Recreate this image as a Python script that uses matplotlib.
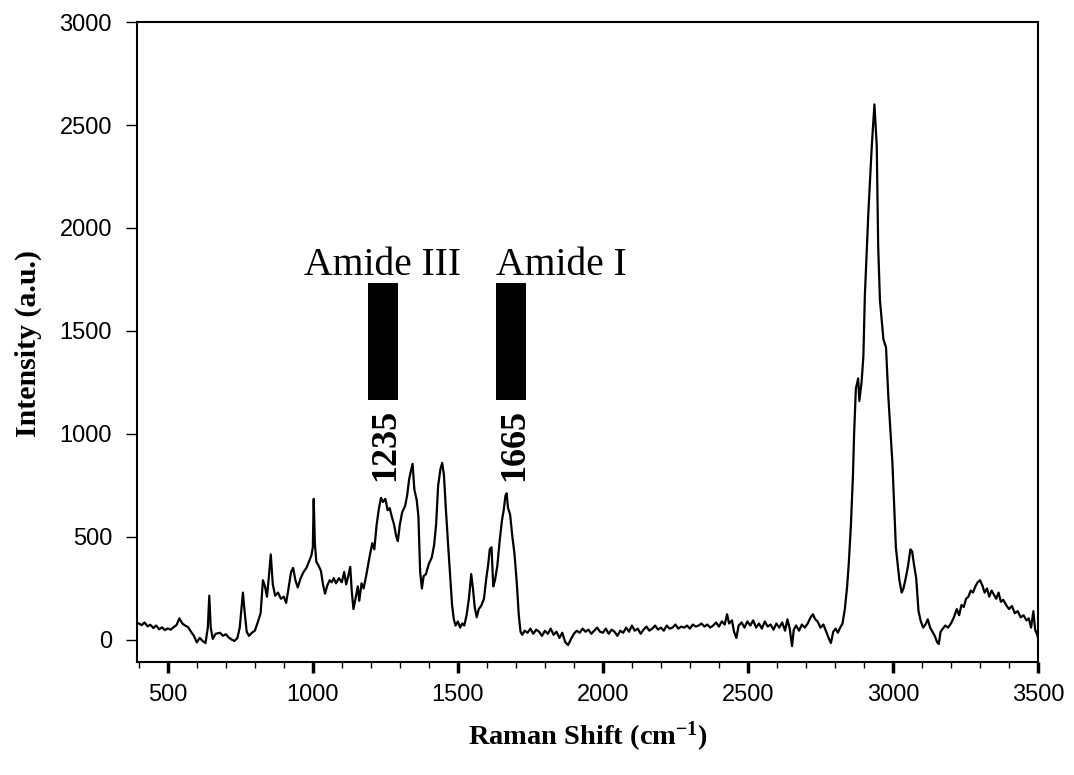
import matplotlib.pyplot as plt
from matplotlib.ticker import MultipleLocator

# fingerprint region (400 - 1720 cm-1)
shift_fp = [400, 410, 420, 430, 440, 450, 460, 470, 480, 490, 500, 510, 520, 530, 540, 550, 560, 570,
            580, 590, 600, 610, 620, 630, 638, 643, 648, 655, 665, 680, 690, 700, 710, 720, 730, 740,
            748, 755, 759, 764, 772, 780, 790, 800, 810, 820, 828, 835, 842, 848, 855, 862, 870, 880,
            890, 900, 908, 915, 925, 932, 940, 948, 958, 968, 978, 988, 995, 1000, 1003, 1007, 1012,
            1020, 1028, 1035, 1042, 1050, 1058, 1065, 1072, 1080, 1090, 1100, 1108, 1115, 1122, 1129,
            1134, 1140, 1147, 1155, 1160, 1168, 1175, 1185, 1195, 1205, 1212, 1220, 1228, 1235, 1242,
            1250, 1258, 1265, 1272, 1280, 1288, 1293, 1300, 1308, 1318, 1325, 1332, 1338, 1344, 1350,
            1358, 1364, 1370, 1376, 1382, 1390, 1400, 1410, 1418, 1425, 1432, 1440, 1446, 1452, 1458,
            1466, 1474, 1480, 1486, 1492, 1500, 1508, 1515, 1522, 1530, 1538, 1546, 1552, 1558, 1565,
            1572, 1580, 1590, 1598, 1604, 1610, 1616, 1622, 1628, 1636, 1644, 1652, 1658, 1664, 1668,
            1673, 1680, 1688, 1695, 1703, 1710, 1716]
int_fp = [80, 72, 85, 66, 74, 58, 70, 52, 61, 48, 56, 50, 62, 72, 105, 80, 70, 62,
          40, 20, -12, 10, -5, -15, 60, 215, 60, 5, 30, 35, 20, 28, 12, 2, -5, 10,
          60, 170, 230, 150, 40, 20, 35, 45, 85, 130, 290, 260, 210, 300, 415, 270, 215, 230,
          200, 210, 180, 240, 330, 350, 290, 255, 300, 330, 350, 385, 410, 450, 685, 470, 380,
          360, 335, 270, 225, 265, 290, 280, 300, 275, 300, 280, 330, 270, 310, 355,
          240, 150, 200, 260, 190, 275, 250, 320, 400, 470, 440, 560, 640, 690, 670,
          685, 630, 640, 600, 560, 500, 480, 560, 620, 650, 700, 780, 820, 855, 730,
          680, 600, 330, 250, 310, 320, 370, 400, 460, 560, 750, 830, 860, 800, 650,
          470, 300, 170, 100, 70, 90, 60, 80, 70, 120, 200, 320, 250, 160, 110,
          150, 165, 200, 300, 360, 440, 450, 260, 290, 360, 480, 580, 630, 700, 712,
          640, 610, 500, 420, 280, 120, 40]

# silent region (1720 - 2830 cm-1)
shift_silent = [1722, 1730, 1740, 1750, 1760, 1770, 1780, 1790, 1800, 1810, 1820, 1830, 1840, 1850,
                1860, 1870, 1880, 1890, 1900, 1910, 1920, 1930, 1940, 1950, 1960, 1970, 1980, 1990,
                2000, 2010, 2020, 2030, 2040, 2050, 2060, 2070, 2080, 2090, 2100, 2110, 2120, 2130,
                2140, 2150, 2160, 2170, 2180, 2190, 2200, 2210, 2220, 2230, 2240, 2250, 2260, 2270,
                2280, 2290, 2300, 2310, 2320, 2330, 2340, 2350, 2360, 2370, 2380, 2390, 2400, 2410,
                2420, 2428, 2435, 2445, 2452, 2460, 2468, 2478, 2488, 2498, 2508, 2518, 2528, 2538,
                2548, 2558, 2568, 2578, 2588, 2598, 2608, 2618, 2628, 2636, 2644, 2652, 2658, 2666,
                2676, 2686, 2696, 2706, 2716, 2724, 2732, 2740, 2750, 2760, 2770, 2778, 2786, 2794,
                2802, 2810, 2818, 2826]
int_silent = [25, 45, 35, 55, 30, 50, 40, 20, 45, 30, 55, 25, 40, 10,
              35, -10, -25, 5, 30, 45, 35, 55, 40, 50, 30, 45, 60, 40,
              35, 55, 30, 50, 40, 20, 45, 35, 60, 40, 70, 45, 55, 30,
              50, 65, 45, 55, 70, 50, 60, 45, 70, 55, 60, 75, 55, 65,
              60, 70, 55, 75, 65, 70, 80, 65, 75, 60, 70, 85, 65, 90,
              75, 125, 80, 95, 40, 10, 70, 85, 60, 90, 70, 95, 60, 80,
              55, 90, 65, 75, 50, 80, 60, 85, 45, 100, 55, -30, 50, 70,
              45, 75, 60, 80, 110, 125, 100, 90, 60, 75, 40, 10, -15, 40,
              55, 35, 60, 80]

# C-H stretching region (2830 - 3500 cm-1)
shift_ch = [2834, 2842, 2848, 2855, 2862, 2866, 2872, 2880, 2884, 2892, 2898, 2903, 2915, 2927, 2936,
            2944, 2949, 2955, 2967, 2976, 2984, 2990, 2998, 3010, 3022, 3030, 3036, 3044, 3052, 3060,
            3066, 3072, 3080, 3088, 3096, 3104, 3112, 3120, 3128, 3136, 3144, 3152, 3158, 3164, 3172,
            3180, 3190, 3200, 3210, 3220, 3228, 3236, 3244, 3252, 3260, 3268, 3276, 3284, 3292, 3300,
            3308, 3316, 3324, 3332, 3340, 3348, 3356, 3364, 3372, 3380, 3390, 3400, 3410, 3420, 3430,
            3440, 3450, 3460, 3468, 3476, 3484, 3490, 3496, 3500]
int_ch = [150, 260, 380, 560, 800, 1000, 1220, 1270, 1160, 1255, 1380, 1670, 2070, 2400, 2600,
          2400, 1910, 1650, 1460, 1420, 1180, 1040, 860, 450, 290, 230, 250, 300, 360, 440,
          430, 370, 300, 140, 90, 60, 75, 100, 60, 40, 20, -10, -20, 40, 55,
          70, 60, 80, 110, 150, 120, 170, 160, 200, 210, 240, 230, 260, 280, 290,
          265, 230, 250, 210, 240, 220, 200, 230, 185, 195, 170, 150, 165, 130, 140,
          110, 120, 95, 105, 60, 140, 50, 30, 10]

band_pos = [1241, 1684]
band_names = ['Amide III', 'Amide I']
band_labels = ['1235', '1665']

shift = shift_fp + shift_silent + shift_ch
intensity = int_fp + int_silent + int_ch

plt.rcParams['mathtext.fontset'] = 'custom'
plt.rcParams['mathtext.rm'] = 'Liberation Serif:bold'
plt.rcParams['mathtext.it'] = 'Liberation Serif:bold'
plt.rcParams['mathtext.bf'] = 'Liberation Serif:bold'

fig = plt.figure(figsize=(10.74, 7.75), dpi=100)
ax = fig.add_axes([0.1276, 0.1458, 0.8389, 0.8258])

ax.plot(shift, intensity, color='black', linewidth=1.6)

# amide band markers
ax.bar(band_pos, 570, width=104, bottom=1165, color='black')
ax.text(band_pos[0], 1772, band_names[0], ha='center', va='baseline',
        family='Liberation Serif', fontsize=28.5)
ax.text(band_pos[1] - 52, 1772, band_names[1], ha='left', va='baseline',
        family='Liberation Serif', fontsize=28.5)
for p, lab in zip(band_pos, band_labels):
    ax.text(p + 10, 945, lab, rotation=90, ha='center', va='center',
            family='Liberation Serif', fontweight='bold', fontsize=26)

ax.set_xlim(394, 3500)
ax.set_ylim(-107, 3000)
ax.xaxis.set_major_locator(MultipleLocator(500))
ax.xaxis.set_minor_locator(MultipleLocator(100))
ax.yaxis.set_major_locator(MultipleLocator(500))
ax.tick_params(axis='x', which='major', direction='out', length=8, width=2.5, pad=8)
ax.tick_params(axis='x', which='minor', direction='out', length=4, width=1)
ax.tick_params(axis='y', which='major', direction='out', length=8, width=1, pad=10)
for lab in ax.get_xticklabels() + ax.get_yticklabels():
    lab.set_family('Liberation Sans')
    lab.set_fontsize(17)
for s in ax.spines.values():
    s.set_linewidth(1.5)

fig.text(588 / 1074, 1 - 737 / 775, 'Raman Shift (cm$^{-1}$)', ha='center', va='center',
         family='Liberation Serif', fontweight='bold', fontsize=20.5)
fig.text(28 / 1074, 1 - 343 / 775, 'Intensity (a.u.)', rotation=90, ha='center', va='center',
         family='Liberation Serif', fontweight='bold', fontsize=21.5)

fig.savefig('out.png', dpi=100)
